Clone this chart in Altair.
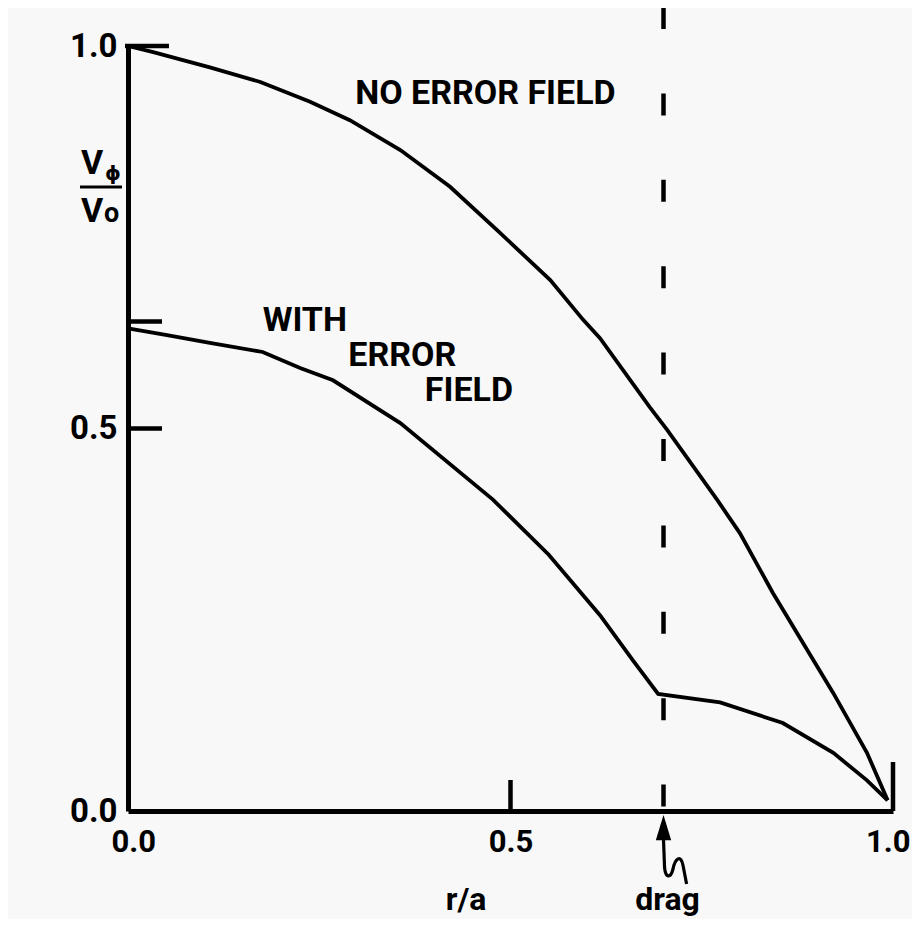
import altair as alt
import pandas as pd

# ---- data ----
r_no_error = [0.0, 0.033, 0.107, 0.173, 0.238, 0.29, 0.356, 0.421, 0.486, 0.552,
              0.595, 0.617, 0.682, 0.705, 0.770, 0.800, 0.843, 0.922, 0.966, 0.993]
v_no_error = [1.0, 0.992, 0.972, 0.953, 0.927, 0.903, 0.864, 0.816, 0.756, 0.694,
              0.642, 0.618, 0.528, 0.498, 0.407, 0.363, 0.285, 0.154, 0.076, 0.014]

r_with_error = [0.0, 0.051, 0.107, 0.176, 0.225, 0.268, 0.356, 0.477, 0.55, 0.617,
                0.660, 0.693, 0.774, 0.856, 0.922, 0.966, 0.993]
v_with_error = [0.631, 0.622, 0.612, 0.600, 0.579, 0.563, 0.507, 0.407, 0.335, 0.256,
                0.197, 0.153, 0.142, 0.115, 0.076, 0.040, 0.014]

axis_ticks = [0.0, 0.5, 1.0]
y_minor_ticks = [0.64, 0.5]
y_top_tick = [1.0]
x_ticks_short = [0.5]
x_ticks_long = [1.0]
drag_r = [0.7]
ra_r = [0.442]

label_texts = ["NO ERROR FIELD", "WITH", "ERROR", "FIELD"]
label_r = [0.297, 0.176, 0.288, 0.388]
label_v = [0.937, 0.640, 0.595, 0.549]

FONT = "Roboto"
BLACK = "#000000"

df_curves = pd.concat([
    pd.DataFrame({"r": r_no_error, "v": v_no_error, "series": "no", "order": range(len(r_no_error))}),
    pd.DataFrame({"r": r_with_error, "v": v_with_error, "series": "with", "order": range(len(r_with_error))}),
])
df_labels = pd.DataFrame({"text": label_texts, "r": label_r, "v": label_v})
df_drag = pd.DataFrame({"r": drag_r})

x_scale = alt.Scale(domain=[0, 1], nice=False, zero=False)
y_scale = alt.Scale(domain=[0, 1], nice=False, zero=False)

x_axis = alt.Axis(values=axis_ticks, format=".1f", title=None, ticks=False, grid=False,
                  labelFont=FONT, labelFontSize=31, labelFontWeight="bold", labelColor=BLACK,
                  domainColor=BLACK, domainWidth=5, labelPadding=16,
                  labelFlush=True, labelFlushOffset=17)
y_axis = alt.Axis(values=axis_ticks, format=".1f", title=None, ticks=False, grid=False,
                  labelFont=FONT, labelFontSize=33, labelFontWeight="bold", labelColor=BLACK,
                  domainColor=BLACK, domainWidth=5, labelPadding=11, labelFlush=False)

curves = alt.Chart(df_curves).mark_line(color=BLACK, strokeWidth=3.8).encode(
    x=alt.X("r:Q", scale=x_scale, axis=x_axis),
    y=alt.Y("v:Q", scale=y_scale, axis=y_axis),
    detail="series:N",
    order="order:Q",
)

drag_line = alt.Chart(df_drag).mark_rule(color=BLACK, strokeWidth=4.5, strokeDash=[22, 64.4]).encode(
    x="r:Q", y=alt.value(-39), y2=alt.value(765)
)

ytick_top = alt.Chart(pd.DataFrame({"v": y_top_tick})).mark_rule(color=BLACK, strokeWidth=4.5).encode(
    y="v:Q", x=alt.value(-3), x2=alt.value(41)
)
ytick_minor = alt.Chart(pd.DataFrame({"v": y_minor_ticks})).mark_rule(color=BLACK, strokeWidth=4.5).encode(
    y="v:Q", x=alt.value(0), x2=alt.value(34)
)
xtick_short = alt.Chart(pd.DataFrame({"r": x_ticks_short})).mark_rule(color=BLACK, strokeWidth=4.5).encode(
    x="r:Q", y=alt.value(765), y2=alt.value(734)
)
xtick_long = alt.Chart(pd.DataFrame({"r": x_ticks_long})).mark_rule(color=BLACK, strokeWidth=4.5).encode(
    x="r:Q", y=alt.value(765), y2=alt.value(716)
)

labels = alt.Chart(df_labels).mark_text(
    font=FONT, fontSize=34, fontWeight="bold", color=BLACK, align="left", baseline="middle"
).encode(x="r:Q", y="v:Q", text="text:N")

# arrow pointing at the drag position
arrow_head_path = "M0,-1 L-0.22,-0.28 L0.22,-0.28 Z"
arrow_tail_path = ("M0,-0.3 L0.03,0.5 C0.06,0.8 0.2,0.82 0.27,0.55 "
                   "C0.33,0.25 0.5,0.1 0.56,0.45 L0.66,0.97")
arrow_head = alt.Chart(df_drag).mark_point(
    shape=arrow_head_path, size=4900, filled=True, color=BLACK, opacity=1, strokeWidth=0
).encode(x="r:Q", y=alt.value(804))
arrow_tail = alt.Chart(df_drag).mark_point(
    shape=arrow_tail_path, size=4900, filled=False, color=BLACK, opacity=1, strokeWidth=3.2
).encode(x="r:Q", y=alt.value(804))

drag_text = alt.Chart(df_drag).mark_text(
    font=FONT, fontSize=32, fontWeight="bold", color=BLACK, align="center", baseline="alphabetic", dx=4
).encode(x="r:Q", y=alt.value(864), text=alt.value("drag"))

ra_text = alt.Chart(pd.DataFrame({"r": ra_r})).mark_text(
    font=FONT, fontSize=32, fontWeight="bold", color=BLACK, align="center", baseline="alphabetic"
).encode(x="r:Q", y=alt.value(864), text=alt.value("r/a"))

# y-axis title as a fraction  V_phi / V_o
ytitle_parts = alt.layer(
    alt.Chart(pd.DataFrame({"t": ["V"]})).mark_text(
        font=FONT, fontSize=34, fontWeight="bold", color=BLACK, align="left", baseline="alphabetic"
    ).encode(x=alt.value(-47), y=alt.value(128), text="t:N"),
    alt.Chart(pd.DataFrame({"t": ["\u03d5"]})).mark_text(
        font="DejaVu Sans", fontSize=20, fontWeight="bold", color=BLACK, align="left", baseline="alphabetic"
    ).encode(x=alt.value(-23), y=alt.value(134), text="t:N"),
    alt.Chart(pd.DataFrame({"t": ["V"]})).mark_text(
        font=FONT, fontSize=34, fontWeight="bold", color=BLACK, align="left", baseline="alphabetic"
    ).encode(x=alt.value(-47), y=alt.value(176), text="t:N"),
    alt.Chart(pd.DataFrame({"t": ["o"]})).mark_text(
        font=FONT, fontSize=27, fontWeight="bold", color=BLACK, align="left", baseline="alphabetic"
    ).encode(x=alt.value(-24), y=alt.value(176), text="t:N"),
    alt.Chart(pd.DataFrame({"t": ["-"]})).mark_rule(color=BLACK, strokeWidth=3).encode(
        x=alt.value(-48), x2=alt.value(-6), y=alt.value(141)
    ),
)

chart = alt.layer(
    curves, drag_line, ytick_top, ytick_minor, xtick_short, xtick_long, labels,
    arrow_head, arrow_tail, drag_text, ra_text, ytitle_parts,
).properties(
    width=765, height=765,
    padding={"left": 120, "top": 38, "right": 19, "bottom": 108},
    autosize=alt.AutoSizeParams(type="none"),
    background="#f8f8f8",
).configure_view(stroke=None)

chart.save("out.html", embed_options={"renderer": "svg", "actions": False})
